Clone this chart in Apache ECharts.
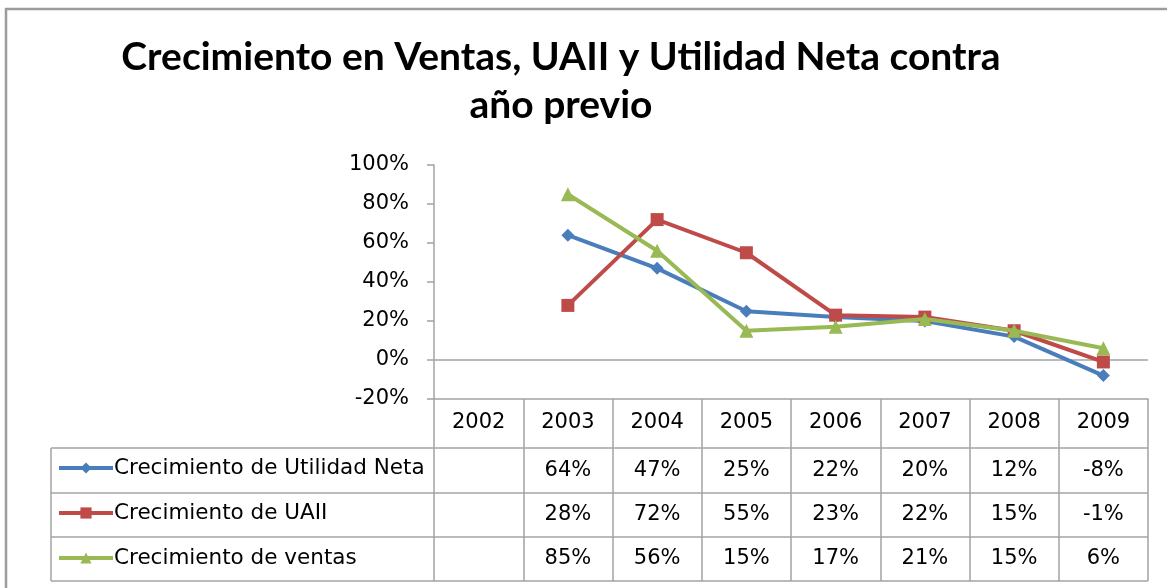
<!DOCTYPE html>
<html>
<head>
<meta charset="utf-8">
<title>Crecimiento en Ventas, UAII y Utilidad Neta</title>
<script src="https://cdn.jsdelivr.net/npm/echarts@6/dist/echarts.min.js"></script>
<style>
  html, body { margin: 0; padding: 0; background: #fff; }
  #chart { width: 1167px; height: 588px; }
</style>
</head>
<body>
<div id="chart"></div>
<script>
var years = ['2002', '2003', '2004', '2005', '2006', '2007', '2008', '2009'];
var utilidadNeta = [null, 64, 47, 25, 22, 20, 12, -8];
var uaii = [null, 28, 72, 55, 23, 22, 15, -1];
var ventas = [null, 85, 56, 15, 17, 21, 15, 6];

var FONT = 'DejaVu Sans';
var TITLE_FONT = 'Lato';
var GRAY = '#a3a3a3';
var gridLeft = 434, gridRight = 1148, gridTop = 165, axisY = 399;
var rowLines = [448, 493, 537, 581];
var tableLeft = 51;

var seriesDefs = [
  { name: 'Crecimiento de Utilidad Neta', data: utilidadNeta, color: '#4a7ebb', symbol: 'diamond', size: 13 },
  { name: 'Crecimiento de UAII', data: uaii, color: '#be4b48', symbol: 'rect', size: 13 },
  { name: 'Crecimiento de ventas', data: ventas, color: '#98b954', symbol: 'triangle', size: 14 }
];

var chart = echarts.init(document.getElementById('chart'));

var series = seriesDefs.map(function (s, i) {
  var o = {
    name: s.name,
    type: 'line',
    data: s.data,
    symbol: s.symbol,
    symbolSize: s.size,
    showAllSymbol: true,
    connectNulls: false,
    lineStyle: { color: s.color, width: 4 },
    itemStyle: { color: s.color },
    emphasis: { disabled: true },
    z: 3 + i
  };
  if (i === 0) {
    o.markLine = {
      silent: true,
      symbol: 'none',
      label: { show: false },
      lineStyle: { color: GRAY, width: 1.5, type: 'solid' },
      data: [{ yAxis: 0 }],
      z: 1
    };
  }
  return o;
});

chart.setOption({
  animation: false,
  backgroundColor: '#fff',
  title: {
    text: 'Crecimiento en Ventas, UAII y Utilidad Neta contra\naño previo',
    left: 561,
    top: 33,
    textAlign: 'center',
    padding: 0,
    textStyle: { fontFamily: TITLE_FONT, fontWeight: 'bold', fontSize: 39, lineHeight: 48, color: '#000' }
  },
  legend: {
    orient: 'vertical',
    left: 57,
    top: 457,
    padding: 0,
    itemWidth: 54,
    itemHeight: 14,
    itemGap: 23,
    selectedMode: false,
    lineStyle: { width: 4 },
    textStyle: { fontFamily: FONT, fontSize: 21.5, lineHeight: 20, color: '#000', padding: [0, 0, 0, -4] },
    data: seriesDefs.map(function (s) { return s.name; })
  },
  grid: { left: gridLeft, right: 1167 - gridRight, top: gridTop, bottom: 588 - axisY, containLabel: false },
  xAxis: {
    type: 'category',
    data: years,
    boundaryGap: true,
    axisLine: { onZero: false, lineStyle: { color: GRAY, width: 1.5 } },
    axisTick: { show: true, length: rowLines[3] - axisY, lineStyle: { color: GRAY, width: 1.5 } },
    axisLabel: { margin: 13, fontFamily: FONT, fontSize: 21, color: '#000' },
    splitLine: { show: false }
  },
  yAxis: {
    type: 'value',
    min: -20,
    max: 100,
    interval: 20,
    axisLine: { show: true, lineStyle: { color: GRAY, width: 1.5 } },
    axisTick: { show: true, length: 7, lineStyle: { color: GRAY, width: 1.5 } },
    axisLabel: { margin: 25, fontFamily: FONT, fontSize: 21, color: '#000', formatter: '{value}%' },
    splitLine: { show: false }
  },
  series: series
});

// data table under the plot, cells placed through the category axis
var graphics = [
  { type: 'rect', shape: { x: 6, y: 9, width: 1300, height: 700 }, style: { fill: 'none', stroke: '#9c9c9c', lineWidth: 2.5 }, silent: true }
];
rowLines.forEach(function (y) {
  graphics.push({ type: 'line', shape: { x1: tableLeft, y1: y, x2: gridRight, y2: y }, style: { stroke: GRAY, lineWidth: 1.5 }, silent: true });
});
graphics.push({ type: 'line', shape: { x1: tableLeft, y1: rowLines[0], x2: tableLeft, y2: rowLines[3] }, style: { stroke: GRAY, lineWidth: 1.5 }, silent: true });

seriesDefs.forEach(function (s, r) {
  var cy = (rowLines[r] + rowLines[r + 1]) / 2;
  s.data.forEach(function (v, i) {
    if (v == null) return;
    var cx = chart.convertToPixel({ xAxisIndex: 0 }, i);
    graphics.push({
      type: 'text', x: cx, y: cy, silent: true,
      style: { text: v + '%', fontFamily: FONT, fontSize: 21, fill: '#000', align: 'center', verticalAlign: 'middle' }
    });
  });
});

chart.setOption({ graphic: graphics });
</script>
</body>
</html>
